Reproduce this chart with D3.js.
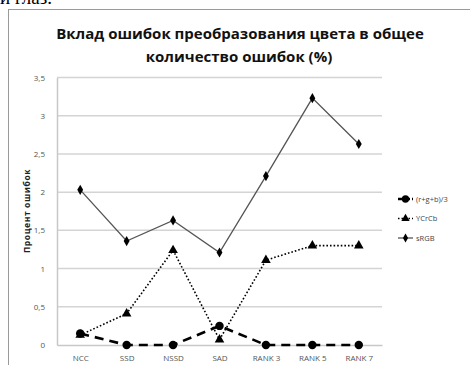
<!DOCTYPE html>
<html>
<head>
<meta charset="utf-8">
<script src="https://cdn.jsdelivr.net/npm/d3@7/dist/d3.min.js"></script>
<style>
  html, body { margin: 0; padding: 0; background: #fff; }
  svg { display: block; }
</style>
</head>
<body>
<svg id="chart" width="470" height="365"></svg>
<script>
// Categories (matching methods) and error contribution per colour conversion, %
const categories = ["NCC", "SSD", "NSSD", "SAD", "RANK 3", "RANK 5", "RANK 7"];
const rgbMean = [0.15, 0, 0, 0.25, 0, 0, 0];
const ycrcb = [0.13, 0.41, 1.24, 0.07, 1.11, 1.30, 1.30];
const srgb = [2.03, 1.36, 1.63, 1.21, 2.21, 3.23, 2.63];
const yTicks = [0, 0.5, 1, 1.5, 2, 2.5, 3, 3.5];
const seriesNames = ["(r+g+b)/3", "YCrCb", "sRGB"];

const svg = d3.select("#chart");

// text fragment from the page above the figure
svg.append("text")
  .attr("x", 0).attr("y", 4)
  .attr("font-family", "Liberation Serif, serif")
  .attr("font-size", 19)
  .attr("fill", "#000")
  .text("и глаз.");

// chart frame
svg.append("rect")
  .attr("x", 8.5).attr("y", 9.5)
  .attr("width", 470).attr("height", 370)
  .attr("fill", "none")
  .attr("stroke", "#9a9a9a")
  .attr("stroke-width", 1);

// title
const title = svg.append("text")
  .attr("text-anchor", "middle")
  .attr("font-family", "Open Sans, sans-serif")
  .attr("font-weight", "bold")
  .attr("font-size", 15)
  .attr("fill", "#111");
title.append("tspan").attr("x", 240).attr("y", 39).text("Вклад ошибок преобразования цвета в общее");
title.append("tspan").attr("x", 239).attr("y", 62).text("количество ошибок (%)");

const x = d3.scalePoint().domain(categories).range([57, 382]).padding(0.5);
const y = d3.scaleLinear().domain([0, 3.5]).range([345, 77.5]);

// horizontal gridlines
svg.append("g")
  .selectAll("line")
  .data(yTicks.filter(t => t > 0))
  .join("line")
  .attr("x1", 57).attr("x2", 382)
  .attr("y1", d => y(d)).attr("y2", d => y(d))
  .attr("stroke", "#d4d4d4")
  .attr("stroke-width", 1.5);

// y axis
const yAxis = svg.append("g")
  .attr("transform", "translate(57,0)")
  .call(d3.axisLeft(y).tickValues(yTicks).tickSize(0).tickPadding(12)
    .tickFormat(d => String(d).replace(".", ",")));
yAxis.select(".domain").attr("stroke", "#c8c8c8").attr("stroke-width", 1.5);
yAxis.selectAll("text")
  .attr("font-family", "Open Sans, sans-serif")
  .attr("font-size", 8)
  .attr("fill", "#555");

// x axis
const xAxis = svg.append("g")
  .attr("transform", "translate(0,345)")
  .call(d3.axisBottom(x).tickSize(0).tickPadding(10));
xAxis.select(".domain").attr("stroke", "#c8c8c8").attr("stroke-width", 1.5);
xAxis.selectAll("text")
  .attr("font-family", "Open Sans, sans-serif")
  .attr("font-size", 8)
  .attr("fill", "#555");

// y axis title
svg.append("text")
  .attr("transform", "translate(30,211) rotate(-90)")
  .attr("text-anchor", "middle")
  .attr("font-family", "Open Sans, sans-serif")
  .attr("font-weight", "bold")
  .attr("font-size", 8.5)
  .attr("letter-spacing", 0.6)
  .attr("fill", "#222")
  .text("Процент ошибок");

const line = d3.line().x((d, i) => x(categories[i])).y(d => y(d));

const styles = [
  { data: rgbMean, stroke: "#000", width: 2.6, dash: "9,6", symbol: d3.symbolCircle, size: 56, sw: 2.6 },
  { data: ycrcb, stroke: "#000", width: 1.6, dash: "1.6,2", symbol: d3.symbolTriangle, size: 40, sw: 1.6 },
  { data: srgb, stroke: "#555", width: 1.3, dash: null, symbol: d3.symbolDiamond, size: 30, sw: 1.3 }
];

// draw series
styles.forEach(s => {
  svg.append("path")
    .datum(s.data)
    .attr("d", line)
    .attr("fill", "none")
    .attr("stroke", s.stroke)
    .attr("stroke-width", s.width)
    .attr("stroke-dasharray", s.dash);
  svg.append("g")
    .selectAll("path")
    .data(s.data)
    .join("path")
    .attr("transform", (d, i) => `translate(${x(categories[i])},${y(d)})`)
    .attr("d", d3.symbol().type(s.symbol).size(s.size))
    .attr("fill", "#000");
});

// legend
const legend = svg.append("g");
styles.forEach((s, i) => {
  const ly = 199 + i * 19.5;
  legend.append("line")
    .attr("x1", 398).attr("x2", 413)
    .attr("y1", ly).attr("y2", ly)
    .attr("stroke", s.stroke)
    .attr("stroke-width", s.sw)
    .attr("stroke-dasharray", s.dash ? (i === 0 ? "5,2" : "1.5,2") : null);
  legend.append("path")
    .attr("transform", `translate(405.5,${ly})`)
    .attr("d", d3.symbol().type(s.symbol).size(s.size * 0.75))
    .attr("fill", "#000");
  legend.append("text")
    .attr("x", 416).attr("y", ly + 2.5)
    .attr("font-family", "Open Sans, sans-serif")
    .attr("font-size", 7.5)
    .attr("fill", "#444")
    .text(seriesNames[i]);
});
</script>
</body>
</html>
